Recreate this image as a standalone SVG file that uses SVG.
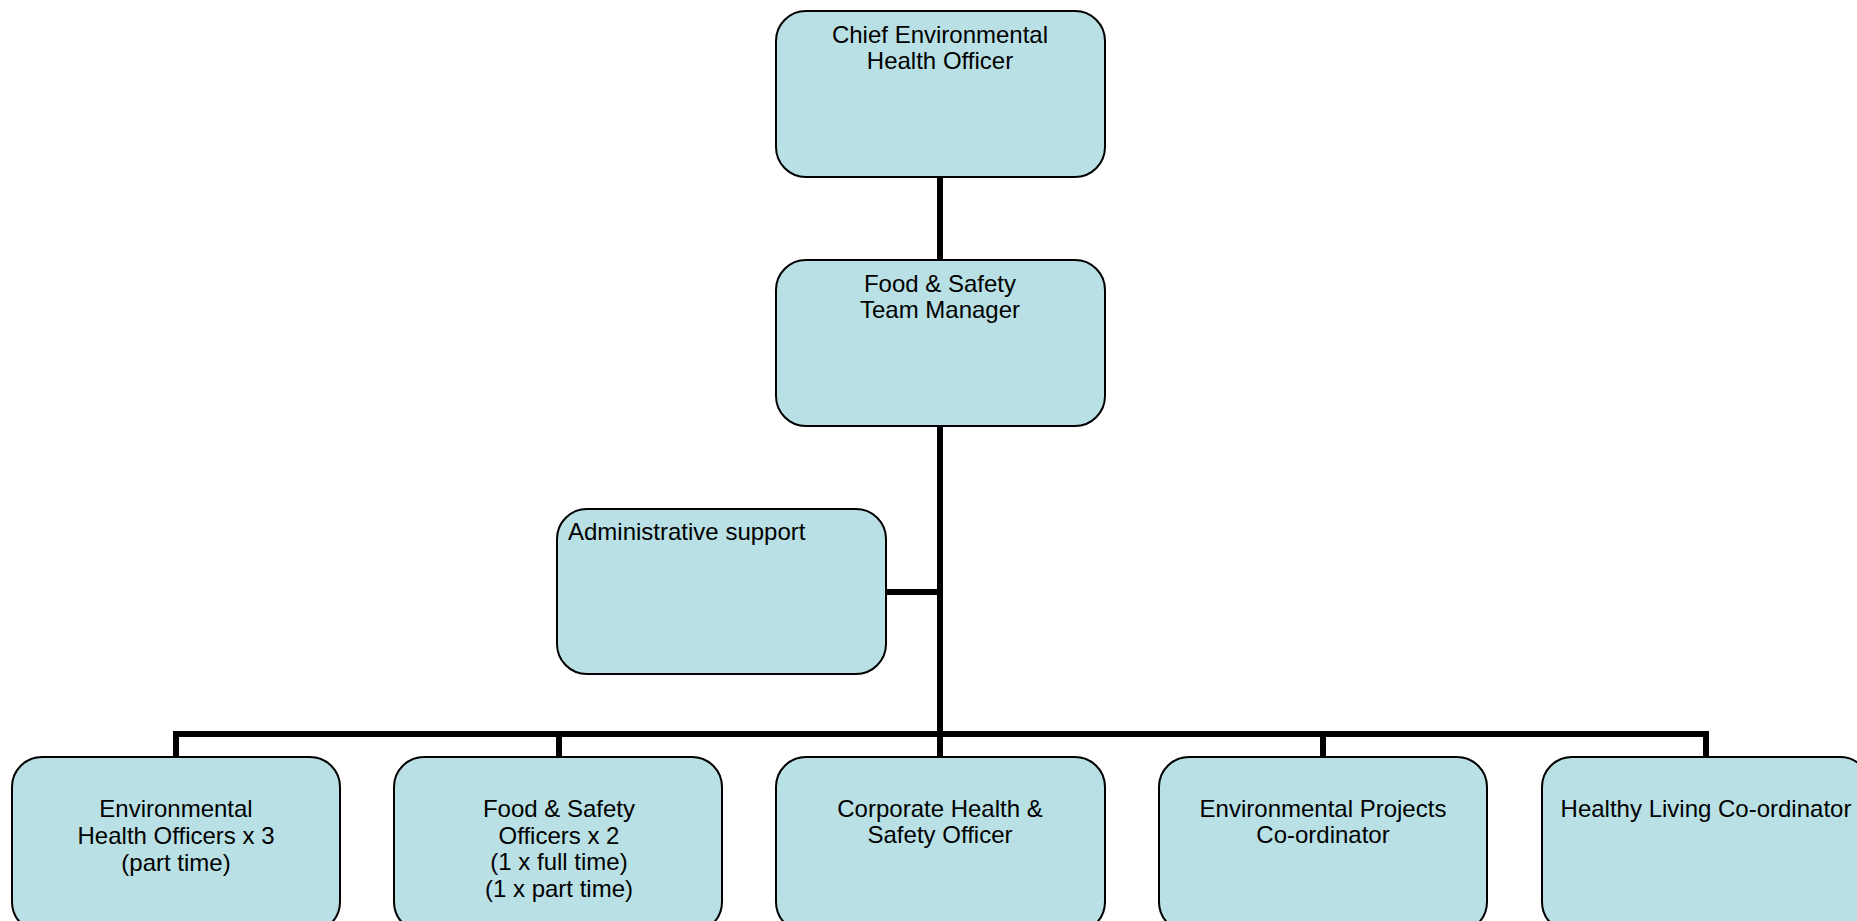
<svg xmlns="http://www.w3.org/2000/svg" width="1857" height="921" viewBox="0 0 1857 921">
<style>
.box{fill:#B9E0E4;stroke:#000;stroke-width:2}
.t{font-family:"Liberation Sans",Arial,sans-serif;font-size:24px;fill:#000;text-anchor:middle}
.l{text-anchor:start}
.c{stroke:#000;stroke-width:6;fill:none}
</style>
<rect width="1857" height="921" fill="#fff"/>
<g id="connectors">
<line class="c" x1="940" y1="177" x2="940" y2="260"/>
<line class="c" x1="940" y1="426" x2="940" y2="757"/>
<line class="c" x1="886" y1="592" x2="940" y2="592"/>
<polyline class="c" points="176,757 176,734 1706,734 1706,757"/>
<line class="c" x1="559" y1="734" x2="559" y2="757"/>
<line class="c" x1="1323" y1="734" x2="1323" y2="757"/>
</g>
<g id="chief">
<rect class="box" x="776" y="11" width="329" height="166" rx="30"/>
<text class="t" x="940" y="43">Chief Environmental</text>
<text class="t" x="940" y="69">Health Officer</text>
</g>
<g id="manager">
<rect class="box" x="776" y="260" width="329" height="166" rx="30"/>
<text class="t" x="940" y="292">Food &amp; Safety</text>
<text class="t" x="940" y="318">Team Manager</text>
</g>
<g id="admin">
<rect class="box" x="557" y="509" width="329" height="165" rx="30"/>
<text class="t l" x="568" y="540">Administrative support</text>
</g>
<g id="eho">
<rect class="box" x="12" y="757" width="328" height="175" rx="30"/>
<text class="t" x="176" y="817">Environmental</text>
<text class="t" x="176" y="844">Health Officers x 3</text>
<text class="t" x="176" y="871">(part time)</text>
</g>
<g id="fso">
<rect class="box" x="394" y="757" width="328" height="175" rx="30"/>
<text class="t" x="559" y="817">Food &amp; Safety</text>
<text class="t" x="559" y="844">Officers x 2</text>
<text class="t" x="559" y="870">(1 x full time)</text>
<text class="t" x="559" y="897">(1 x part time)</text>
</g>
<g id="corporate">
<rect class="box" x="776" y="757" width="329" height="175" rx="30"/>
<text class="t" x="940" y="817">Corporate Health &amp;</text>
<text class="t" x="940" y="843">Safety Officer</text>
</g>
<g id="projects">
<rect class="box" x="1159" y="757" width="328" height="175" rx="30"/>
<text class="t" x="1323" y="817">Environmental Projects</text>
<text class="t" x="1323" y="843">Co-ordinator</text>
</g>
<g id="healthy">
<rect class="box" x="1542" y="757" width="328" height="175" rx="30"/>
<text class="t" x="1706" y="817">Healthy Living Co-ordinator</text>
</g>
</svg>
